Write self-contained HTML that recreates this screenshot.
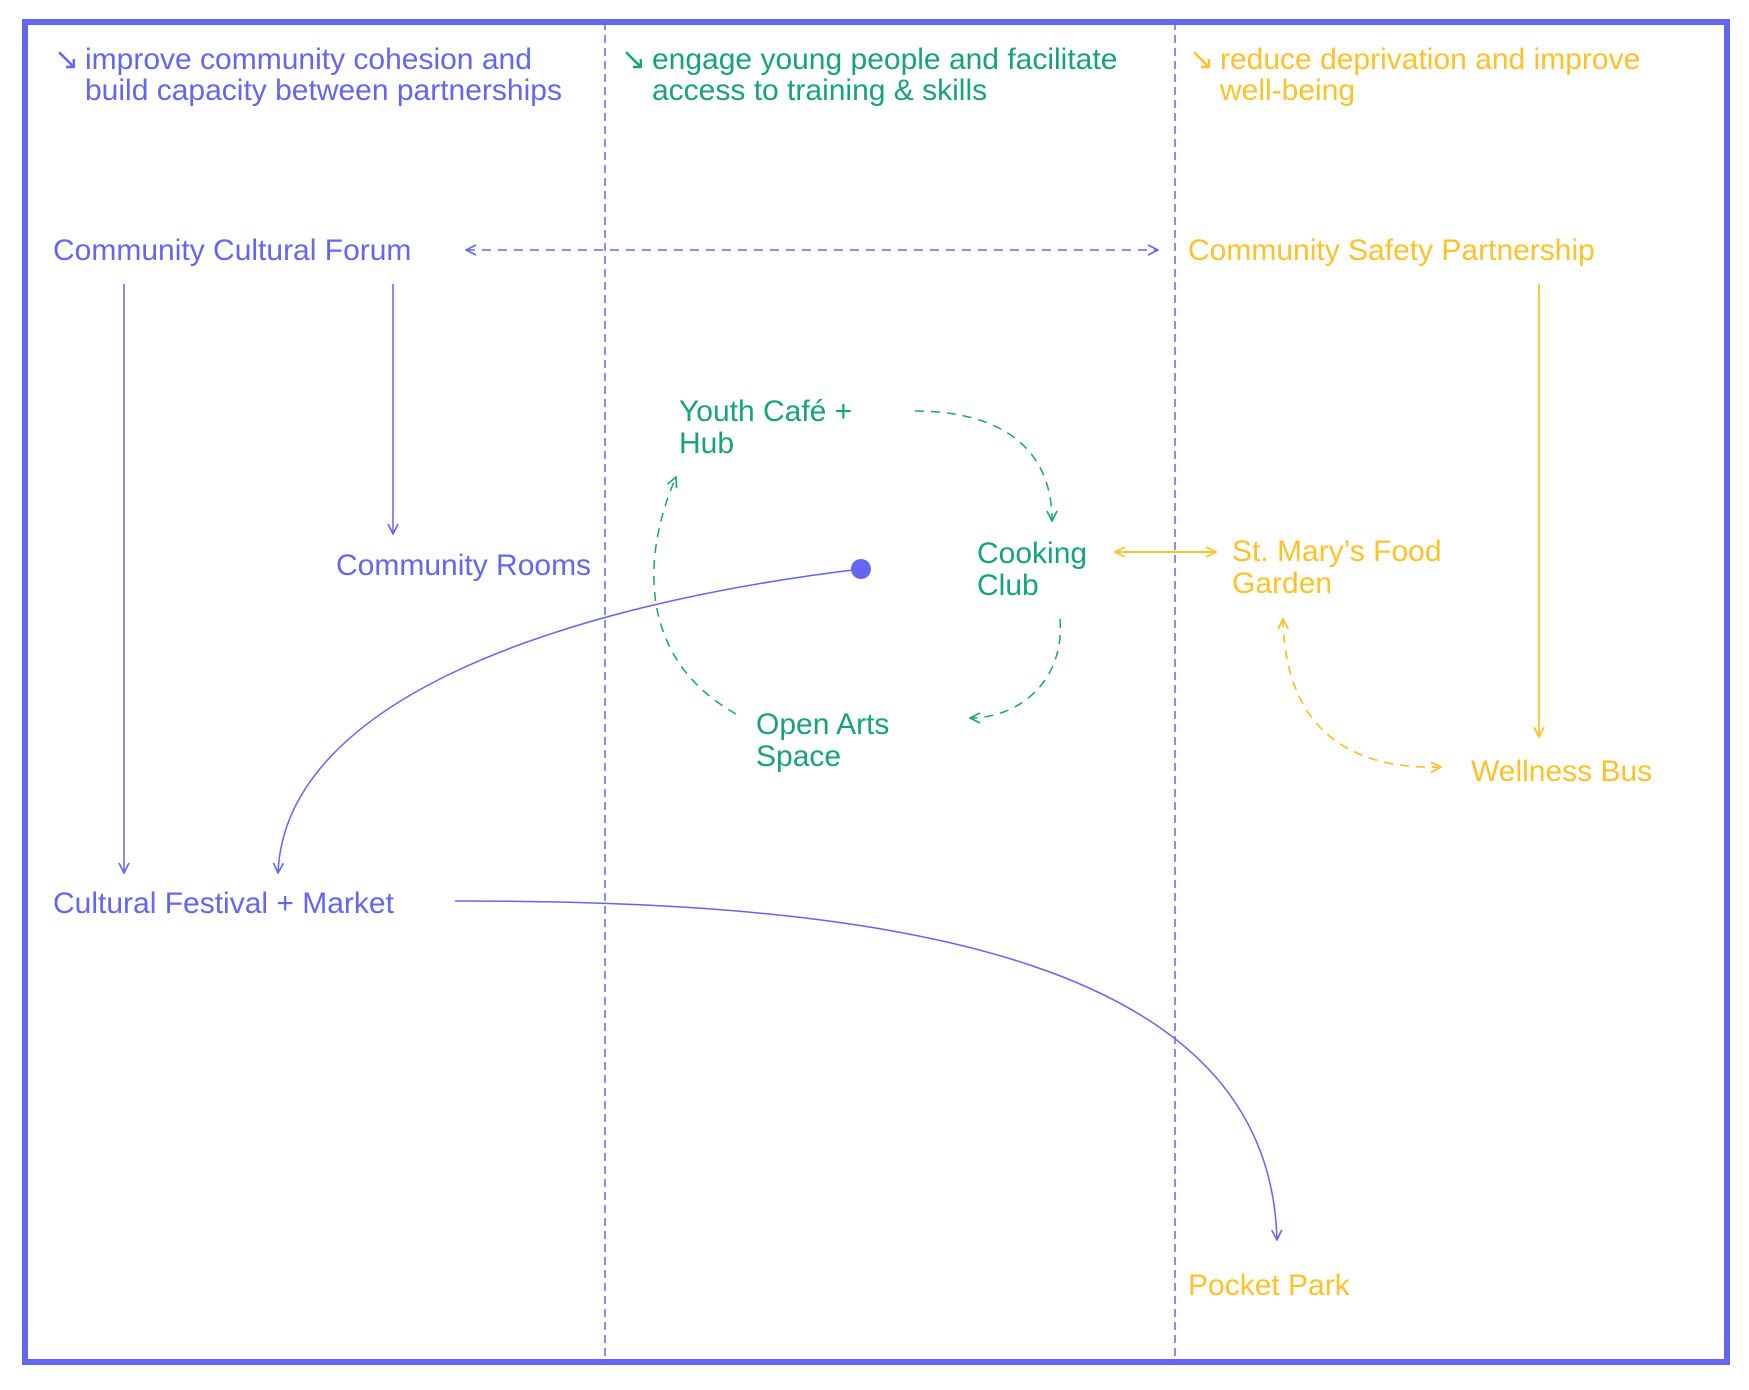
<!DOCTYPE html>
<html><head><meta charset="utf-8"><style>
html,body{margin:0;padding:0;background:#fff;}
svg{display:block;}
text{font-family:"Liberation Sans",sans-serif;font-size:30px;letter-spacing:0px;}
.b{fill:#6366ee}.g{fill:#17a377}.y{fill:#fcc22b}
</style></head><body>
<svg width="1749" height="1390" viewBox="0 0 1749 1390" xmlns="http://www.w3.org/2000/svg">
<defs>
<marker id="ab" viewBox="0 0 12 12" refX="11" refY="6" markerWidth="12" markerHeight="12" markerUnits="userSpaceOnUse" orient="auto-start-reverse"><path d="M1,1 L11,6 L1,11" fill="none" stroke="#6366ee" stroke-width="1.6"/></marker>
<marker id="ag" viewBox="0 0 12 12" refX="11" refY="6" markerWidth="12" markerHeight="12" markerUnits="userSpaceOnUse" orient="auto-start-reverse"><path d="M1,1 L11,6 L1,11" fill="none" stroke="#17a377" stroke-width="1.6"/></marker>
<marker id="ay" viewBox="0 0 12 12" refX="11" refY="6" markerWidth="12" markerHeight="12" markerUnits="userSpaceOnUse" orient="auto-start-reverse"><path d="M1,1 L11,6 L1,11" fill="none" stroke="#fcc22b" stroke-width="1.8"/></marker>
</defs>
<rect x="25" y="22" width="1702" height="1340" fill="none" stroke="#6366ee" stroke-width="6"/>
<line x1="605" y1="22" x2="605" y2="1362" stroke="#6366ee" stroke-width="1.5" stroke-dasharray="8,5"/>
<line x1="1175" y1="22" x2="1175" y2="1362" stroke="#6366ee" stroke-width="1.5" stroke-dasharray="8,5"/>

<text x="54" y="69" class="b">↘</text>
<text x="85" y="69" class="b">improve community cohesion and</text>
<text x="85" y="100" class="b">build capacity between partnerships</text>
<text x="621" y="69" class="g">↘</text>
<text x="652" y="69" class="g">engage young people and facilitate</text>
<text x="652" y="100" class="g">access to training &amp; skills</text>
<text x="1189" y="69" class="y">↘</text>
<text x="1220" y="69" class="y">reduce deprivation and improve</text>
<text x="1220" y="100" class="y">well-being</text>

<text x="53" y="260" class="b">Community Cultural Forum</text>
<text x="1188" y="260" class="y">Community Safety Partnership</text>
<text x="679" y="421" class="g">Youth Café +</text>
<text x="679" y="453" class="g">Hub</text>
<text x="336" y="575" class="b">Community Rooms</text>
<text x="977" y="563" class="g">Cooking</text>
<text x="977" y="595" class="g">Club</text>
<text x="1232" y="561" class="y">St. Mary’s Food</text>
<text x="1232" y="593" class="y">Garden</text>
<text x="756" y="734" class="g">Open Arts</text>
<text x="756" y="766" class="g">Space</text>
<text x="1471" y="781" class="y">Wellness Bus</text>
<text x="53" y="913" class="b">Cultural Festival + Market</text>
<text x="1188" y="1295" class="y">Pocket Park</text>

<line x1="466" y1="250" x2="1158" y2="250" stroke="#6366ee" stroke-width="1.5" stroke-dasharray="9,7" marker-start="url(#ab)" marker-end="url(#ab)"/>
<line x1="124" y1="284" x2="124" y2="873" stroke="#6366ee" stroke-width="1.5" marker-end="url(#ab)"/>
<line x1="393" y1="284" x2="393" y2="534" stroke="#6366ee" stroke-width="1.5" marker-end="url(#ab)"/>
<line x1="1539" y1="284" x2="1539" y2="737" stroke="#fcc22b" stroke-width="1.8" marker-end="url(#ay)"/>
<path d="M861,569 C560,605 285,700 278,873" fill="none" stroke="#6366ee" stroke-width="1.5" marker-end="url(#ab)"/>
<circle cx="861" cy="569" r="10" fill="#6366ee"/>
<path d="M455,901 C900,900 1270,960 1277,1240" fill="none" stroke="#6366ee" stroke-width="1.5" marker-end="url(#ab)"/>
<path d="M915,411 C990,411 1052,440 1052,521" fill="none" stroke="#17a377" stroke-width="1.5" stroke-dasharray="9,7" marker-end="url(#ag)"/>
<path d="M1060,619 C1065,680 1020,718 970,718" fill="none" stroke="#17a377" stroke-width="1.5" stroke-dasharray="9,7" marker-end="url(#ag)"/>
<path d="M736,714 C640,660 640,560 676,477" fill="none" stroke="#17a377" stroke-width="1.5" stroke-dasharray="9,7" marker-end="url(#ag)"/>
<line x1="1115" y1="552" x2="1216" y2="552" stroke="#fcc22b" stroke-width="2" marker-start="url(#ay)" marker-end="url(#ay)"/>
<path d="M1441,767 C1340,770 1285,720 1283,619" fill="none" stroke="#fcc22b" stroke-width="1.8" stroke-dasharray="9,7" marker-start="url(#ay)" marker-end="url(#ay)"/>
</svg>
</body></html>
